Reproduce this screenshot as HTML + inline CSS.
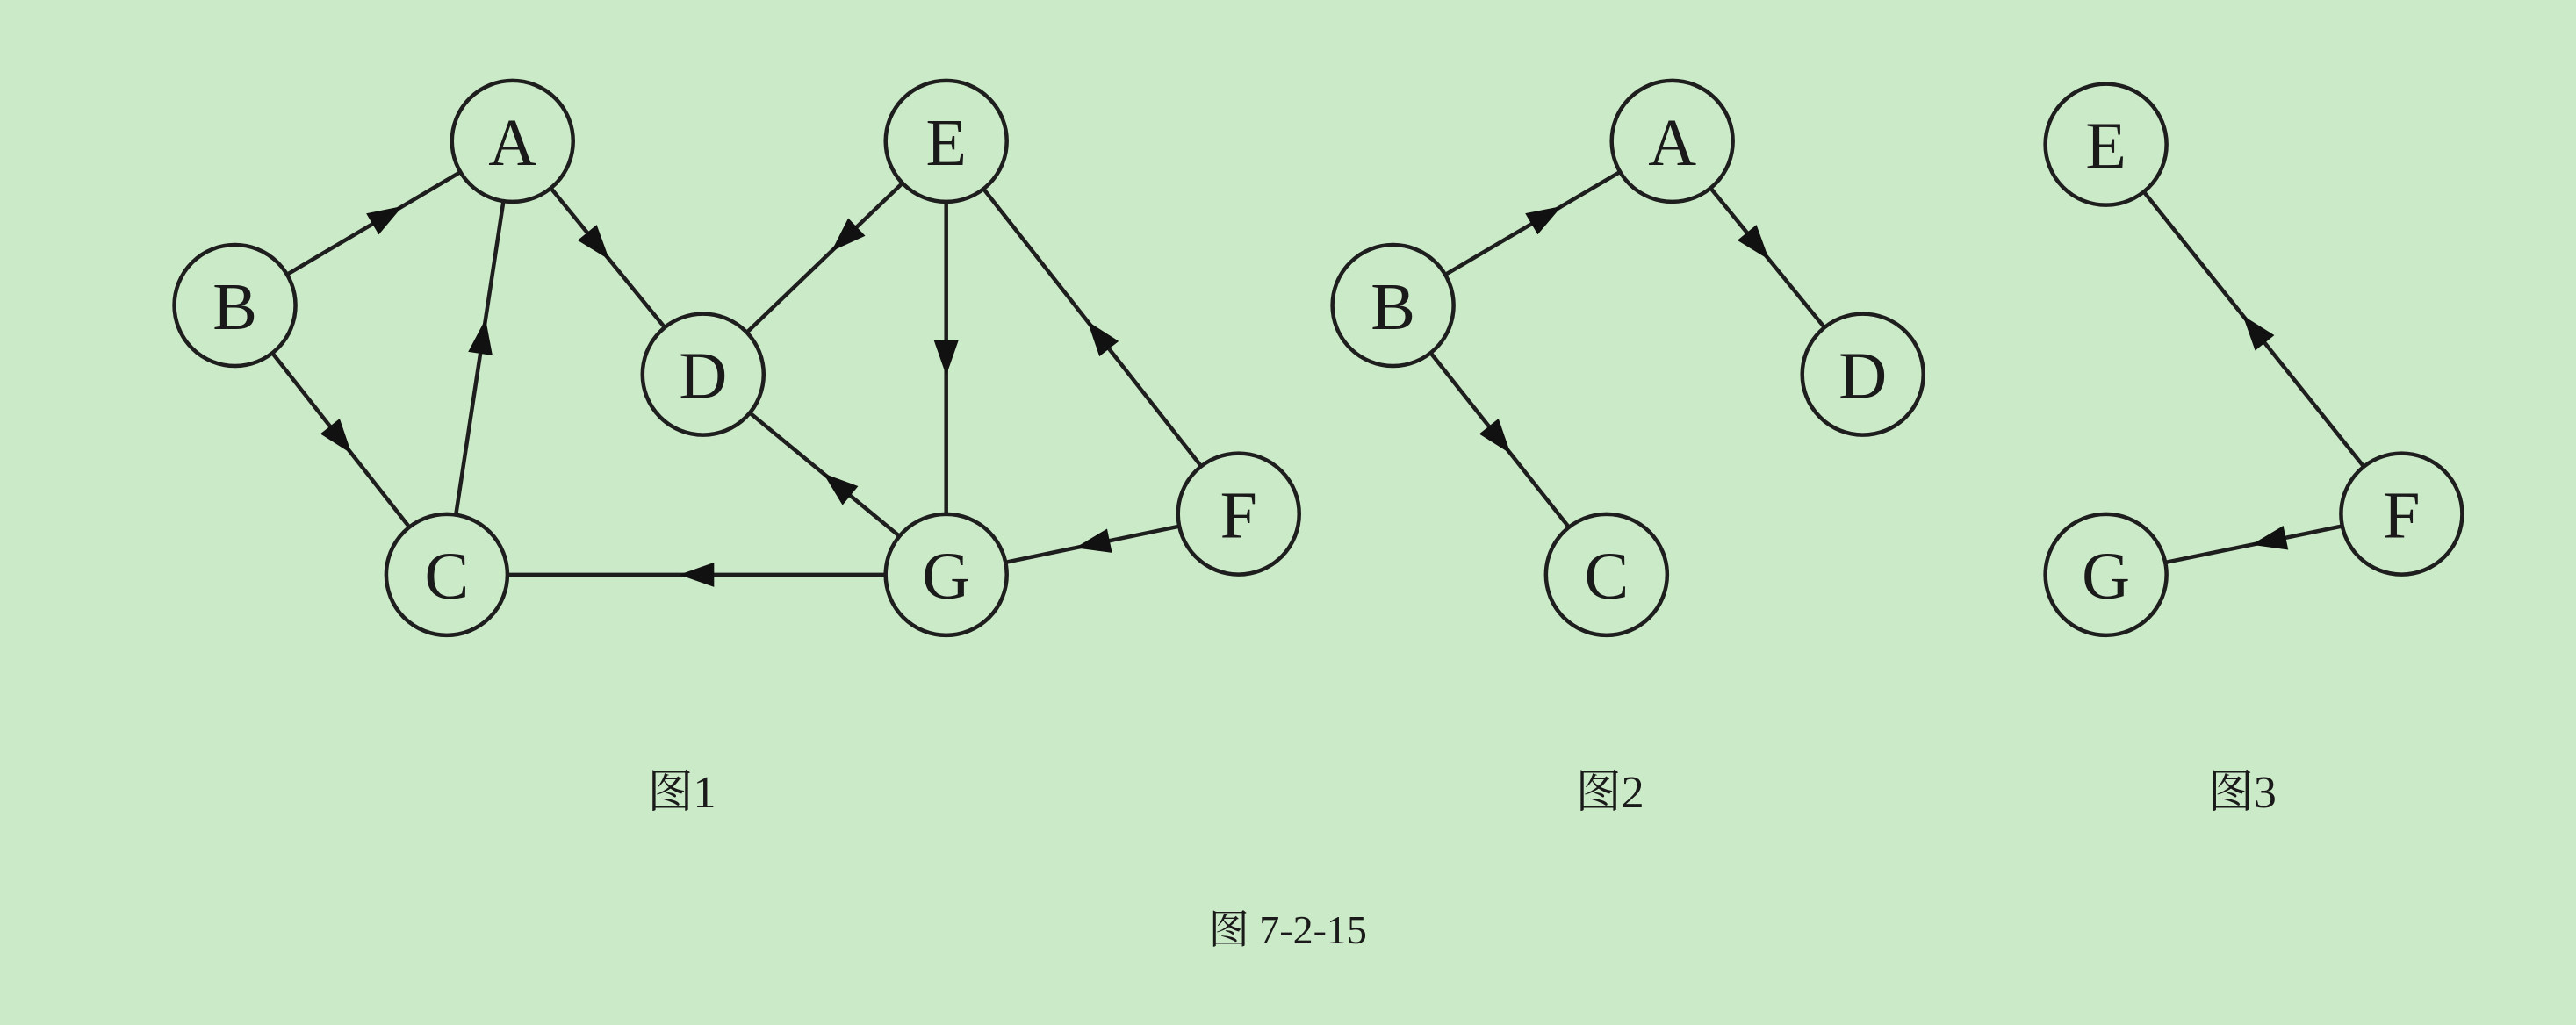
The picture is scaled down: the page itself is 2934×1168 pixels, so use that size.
<!DOCTYPE html>
<html><head><meta charset="utf-8"><style>
html,body{margin:0;padding:0;background:#cbeac7;}
svg{display:block;}
text{font-family:"Liberation Serif","Noto Serif CJK SC",serif;fill:#1a1a1a;}
</style></head><body>
<svg id="g" width="2934" height="1168" viewBox="0 0 2934 1168">
<rect width="2934" height="1168" fill="#cbeac7"/>
</svg>
<script>
const S = 1.871;
const nodeNames = ["A","B","C","D","E","F","G","A","B","C","D","E","F","G"];
const nodeIds = ["1A","1B","1C","1D","1E","1F","1G","2A","2B","2C","2D","3E","3F","3G"];
const nodeX = [312,143,272,428,576,754,576,1018,848,978,1134,1282,1462,1282];
const nodeY = [86,186,350,228,86,313,350,86,186,350,228,88,313,350];
const edgeFrom = ["1B","1A","1B","1C","1G","1E","1E","1G","1F","1F","2B","2A","2B","3F","3F"];
const edgeTo   = ["1A","1D","1C","1A","1C","1D","1G","1D","1E","1G","2A","2D","2C","3E","3G"];
const arrowAt  = [0.55,0.45,0.5,0.55,0.5,0.42,0.5,0.45,0.48,0.5,0.55,0.45,0.5,0.5,0.45];
const captions = ["图1","图2","图3","图 7-2-15"];
const capX = [415,980,1365,784];
const capY = [482,482,482,565];
const R = 69;
const svg = document.getElementById('g');
const NS = "http://www.w3.org/2000/svg";
function P(id){const i=nodeIds.indexOf(id);return [nodeX[i]*S,nodeY[i]*S];}
for(let k=0;k<edgeFrom.length;k++){
  const [x1,y1]=P(edgeFrom[k]),[x2,y2]=P(edgeTo[k]);
  const dx=x2-x1,dy=y2-y1,L=Math.hypot(dx,dy),ux=dx/L,uy=dy/L;
  const l=document.createElementNS(NS,'line');
  
  
  l.setAttribute('x1',x1+ux*R);l.setAttribute('y1',y1+uy*R);
  l.setAttribute('x2',x2-ux*R);l.setAttribute('y2',y2-uy*R);
  l.setAttribute('stroke','#1e1e1e');l.setAttribute('stroke-width','4.5');
  svg.appendChild(l);
  const t=arrowAt[k];
  const mx=x1+dx*t,my=y1+dy*t;
  const tipx=mx+ux*20,tipy=my+uy*20,bx=mx-ux*20,by=my-uy*20;
  const px=-uy*14,py=ux*14;
  const a=document.createElementNS(NS,'polygon');
  
  
  a.setAttribute('points',`${tipx},${tipy} ${bx+px},${by+py} ${bx-px},${by-py}`);
  a.setAttribute('fill','#111');
  svg.appendChild(a);
}
for(let i=0;i<nodeIds.length;i++){
  const x=nodeX[i]*S,y=nodeY[i]*S;
  const c=document.createElementNS(NS,'circle');
  
  
  c.setAttribute('cx',x);c.setAttribute('cy',y);c.setAttribute('r',R);
  c.setAttribute('fill','#cbeac7');c.setAttribute('stroke','#1e1e1e');c.setAttribute('stroke-width','4.5');
  svg.appendChild(c);
  const tx=document.createElementNS(NS,'text');
  
  
  tx.setAttribute('x',x);tx.setAttribute('y',y+27);
  tx.setAttribute('text-anchor','middle');tx.setAttribute('font-size','76');
  tx.textContent=nodeNames[i];
  svg.appendChild(tx);
}
for(let i=0;i<captions.length;i++){
  const tx=document.createElementNS(NS,'text');
  
  
  tx.setAttribute('x',capX[i]*S);tx.setAttribute('y',capY[i]*S+18);
  tx.setAttribute('text-anchor','middle');tx.setAttribute('font-size',i<3?'52':'46');
  tx.textContent=captions[i];
  svg.appendChild(tx);
}
</script>
</body></html>
